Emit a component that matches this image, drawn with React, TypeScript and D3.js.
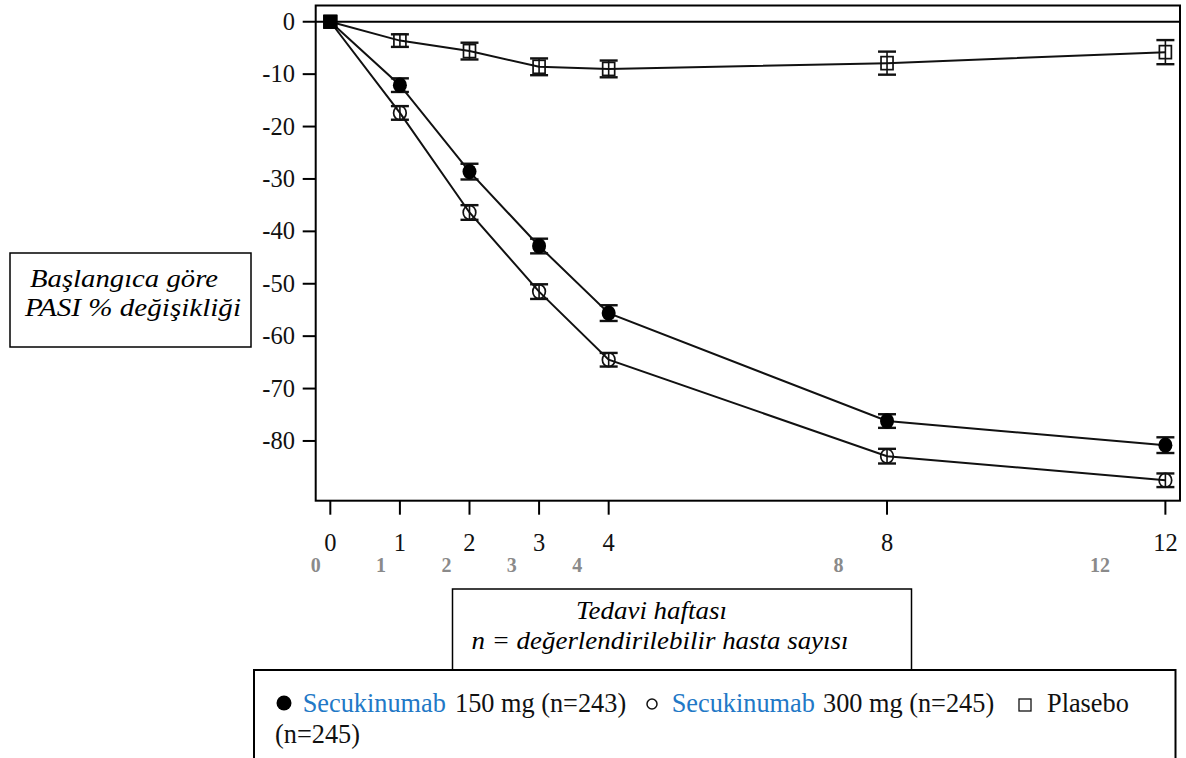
import React from "react";
import * as d3 from "d3";

const weeks = [0, 1, 2, 3, 4, 8, 12];
const secu150 = [0, -12.1, -28.6, -42.8, -55.6, -76.2, -80.8];
const secu150Err = [0, 1.3, 1.5, 1.4, 1.5, 1.3, 1.5];
const secu300 = [0, -17.4, -36.4, -51.5, -64.5, -82.9, -87.5];
const secu300Err = [0, 1.3, 1.4, 1.4, 1.3, 1.4, 1.3];
const placebo = [0, -3.6, -5.6, -8.6, -9.0, -7.9, -5.8];
const placeboErr = [0, 1.2, 1.6, 1.6, 1.6, 2.2, 2.3];
const yTicks = [0, -10, -20, -30, -40, -50, -60, -70, -80];
const xTicks = [0, 1, 2, 3, 4, 8, 12];
const yTitle = ["Başlangıca göre", "PASI % değişikliği"];
const xTitle = ["Tedavi haftası", "n = değerlendirilebilir hasta sayısı"];
const legendDrug = "Secukinumab";
const legend150 = "150 mg (n=243)";
const legend300 = "300 mg (n=245)";
const legendPlacebo = "Plasebo";
const legendPlaceboN = "(n=245)";

const FONT = '"Liberation Serif", "Times New Roman", Tinos, "DejaVu Serif", serif';
const BLUE = "#2278c6";

type Series = { key: string; values: number[]; err: number[]; marker: "filled" | "open" | "square" };
const series: Series[] = [
  { key: "placebo", values: placebo, err: placeboErr, marker: "square" },
  { key: "s300", values: secu300, err: secu300Err, marker: "open" },
  { key: "s150", values: secu150, err: secu150Err, marker: "filled" },
];

const T: React.CSSProperties = { fontFamily: FONT };

export default function App() {
  const left = 315.7, right = 1180, top = 5.5, bottom = 500.7;
  const x = d3.scaleLinear().domain([-0.21, 12.21]).range([left, right]);
  const y = d3.scaleLinear().domain([3.1, -91.4]).range([top, bottom]);
  const xGray = d3.scaleLinear().domain([0, 12]).range([315.7, 1100]);
  const line = d3
    .line<number>()
    .x((_, i) => x(weeks[i]))
    .y((d) => y(d));
  const cap = 9;

  return (
    <svg
      width={1186}
      height={758}
      style={{ position: "absolute", left: 0, top: 0, display: "block", background: "#fff", fontFamily: FONT }}
    >
      <rect x={0} y={0} width={1186} height={758} fill="#fff" />
      <rect x={left} y={top} width={right - left} height={bottom - top} fill="none" stroke="#000" strokeWidth={2} />
      <line x1={left} x2={right} y1={y(0)} y2={y(0)} stroke="#000" strokeWidth={2} />
      {yTicks.map((t) => (
        <g key={"y" + t}>
          <line x1={left - 13} x2={left} y1={y(t)} y2={y(t)} stroke="#000" strokeWidth={2} />
          <text x={295} y={y(t) + 8} textAnchor="end" fontSize={24.5} fill="#111" style={T}>
            {t === 0 ? "0" : "-" + Math.abs(t)}
          </text>
        </g>
      ))}
      {xTicks.map((t) => (
        <g key={"x" + t}>
          <line x1={x(t)} x2={x(t)} y1={bottom} y2={bottom + 14} stroke="#000" strokeWidth={2} />
          <text x={x(t)} y={550.5} textAnchor="middle" fontSize={24.5} fill="#111" style={T}>
            {t}
          </text>
          <text x={xGray(t)} y={572} textAnchor="middle" fontSize={20} fontWeight="bold" fill="#8a8a8a" style={T}>
            {t}
          </text>
        </g>
      ))}
      {series.map((s) => (
        <path key={"l" + s.key} d={line(s.values) || ""} fill="none" stroke="#111" strokeWidth={2} />
      ))}
      {series.map((s) =>
        s.values.map((v, i) =>
          s.err[i] > 0 ? (
            <g key={"e" + s.key + i} stroke="#111">
              <line x1={x(weeks[i])} x2={x(weeks[i])} y1={y(v + s.err[i])} y2={y(v - s.err[i])} strokeWidth={1.6} />
              <line x1={x(weeks[i]) - cap} x2={x(weeks[i]) + cap} y1={y(v + s.err[i])} y2={y(v + s.err[i])} strokeWidth={2.4} />
              <line x1={x(weeks[i]) - cap} x2={x(weeks[i]) + cap} y1={y(v - s.err[i])} y2={y(v - s.err[i])} strokeWidth={2.4} />
            </g>
          ) : null
        )
      )}
      {series.map((s) =>
        s.values.map((v, i) => {
          const cx = x(weeks[i]);
          const cy = y(v);
          if (weeks[i] === 0) {
            return <rect key={"m" + s.key + i} x={cx - 7} y={cy - 7} width={14} height={14} fill="#000" />;
          }
          if (s.marker === "filled") return <ellipse key={"m" + s.key + i} cx={cx} cy={cy} rx={7} ry={7.7} fill="#000" />;
          if (s.marker === "open")
            return <ellipse key={"m" + s.key + i} cx={cx} cy={cy} rx={6.3} ry={7} fill="none" stroke="#111" strokeWidth={1.7} />;
          return <rect key={"m" + s.key + i} x={cx - 6} y={cy - 6.5} width={12} height={13} fill="none" stroke="#111" strokeWidth={1.7} />;
        })
      )}
      <rect x={10} y={253} width={241} height={94} fill="#fff" stroke="#000" strokeWidth={1.5} />
      <text x={30} y={287} fontSize={25} fontStyle="italic" textLength={188} lengthAdjust="spacingAndGlyphs" style={T}>
        {yTitle[0]}
      </text>
      <text x={25} y={316} fontSize={25} fontStyle="italic" textLength={216} lengthAdjust="spacingAndGlyphs" style={T}>
        {yTitle[1]}
      </text>
      <rect x={452.5} y={589} width={459} height={81} fill="#fff" stroke="#000" strokeWidth={1.5} />
      <text x={576} y={619} fontSize={25} fontStyle="italic" textLength={151} lengthAdjust="spacingAndGlyphs" style={T}>
        {xTitle[0]}
      </text>
      <text x={471.5} y={649} fontSize={25} fontStyle="italic" textLength={377} lengthAdjust="spacingAndGlyphs" style={T}>
        {xTitle[1]}
      </text>
      <rect x={254} y={670} width={921.5} height={100} fill="#fff" stroke="#000" strokeWidth={2} />
      <circle cx={284} cy={703} r={7.5} fill="#000" />
      <text x={302.7} y={711.5} fontSize={26.3} fill={BLUE} style={T}>{legendDrug}</text>
      <text x={455} y={711.5} fontSize={26.3} fill="#111" style={T}>{legend150}</text>
      <circle cx={652} cy={704} r={5} fill="none" stroke="#111" strokeWidth={1.5} />
      <text x={671.7} y={711.5} fontSize={26.3} fill={BLUE} style={T}>{legendDrug}</text>
      <text x={823} y={711.5} fontSize={26.3} fill="#111" style={T}>{legend300}</text>
      <rect x={1019} y={699} width={12} height={12} fill="none" stroke="#111" strokeWidth={1.3} />
      <text x={1047} y={711.5} fontSize={26.3} fill="#111" style={T}>{legendPlacebo}</text>
      <text x={275} y={743} fontSize={26.3} fill="#111" style={T}>{legendPlaceboN}</text>
    </svg>
  );
}
